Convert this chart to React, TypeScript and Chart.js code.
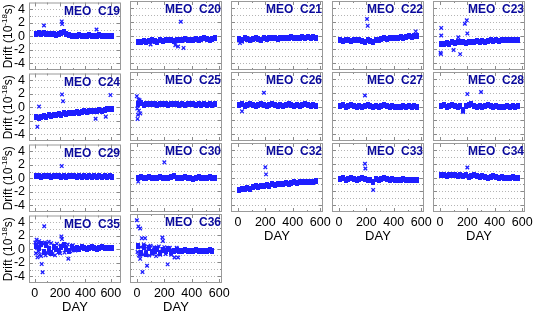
import { useEffect, useRef } from "react";
import { Chart, registerables } from "chart.js";
Chart.register(...registerables);

const DAYS = [10, 30, 50, 70, 90, 110, 130, 150, 170, 190, 210, 230, 250, 270, 290, 310, 330, 350, 370, 390, 410, 430, 450, 470, 490, 510, 530, 550, 570, 590, 610];
const X_TICKS = [0, 200, 400, 600];
const Y_TICKS = [-4, -2, 0, 2, 4];

const C19_BAND = [0.4, 0.5, 0.3, 0.5, 0.4, 0.3, 0.4, 0.3, 0.2, 0.3, 0.5, 0.6, 0.4, 0.2, 0.1, 0.0, 0.1, 0.2, 0.1, 0.0, 0.1, 0.2, 0.1, 0.0, 0.1, 0.2, 0.1, 0.0, 0.1, 0.1, 0.0];
const C19_OUT = [[73, 1.6], [213, 2.2], [216, 1.8], [487, 1.0]];
const C20_BAND = [-0.9, -1.0, -0.8, -0.9, -0.8, -0.7, -0.8, -0.9, -0.7, -0.8, -0.7, -0.6, -0.7, -0.8, -0.6, -0.7, -0.6, -0.5, -0.6, -0.7, -0.6, -0.5, -0.6, -0.5, -0.4, -0.5, -0.6, -0.5, -0.4, null, null];
const C20_OUT = [[320, 2.0], [300, -1.6], [280, -1.4], [340, -1.8], [100, -1.3]];
const C21_BAND = [-0.5, -0.6, -0.4, -0.5, -0.6, -0.5, -0.4, -0.5, -0.6, -0.4, -0.5, -0.4, -0.3, -0.4, -0.5, -0.4, -0.3, -0.4, -0.3, -0.2, -0.3, -0.4, -0.3, -0.2, -0.3, -0.2, -0.3, -0.2, -0.3, null, null];
const C21_OUT = [[15, -1.1], [30, -0.9]];
const C22_BAND = [-0.7, -0.8, -0.6, -0.7, -0.8, -0.7, -0.6, -0.7, -0.8, -0.9, -0.7, -0.8, -0.9, -0.7, -0.6, -0.5, -0.4, -0.5, -0.4, -0.3, -0.4, -0.3, -0.2, -0.3, -0.2, -0.1, -0.2, -0.1, 0.0, null, null];
const C22_OUT = [[205, 2.4], [210, 1.4], [560, 0.6]];
const C23_BAND = [-1.3, -1.2, -1.1, -1.2, -1.0, -1.1, -1.0, -0.9, -1.0, -1.1, -0.9, -1.0, -0.9, -0.8, -0.9, -0.8, -0.9, -0.8, -0.7, -0.8, -0.7, -0.8, -0.7, -0.6, -0.7, -0.6, -0.7, -0.6, -0.7, null, null];
const C23_OUT = [[10, 1.1], [10, 0.0], [8, -2.7], [5, -2.5], [100, -2.1], [148, -2.7], [134, -0.25], [182, 1.7], [196, 2.2], [200, 0.3]];
const C24_BAND = [-1.5, -1.6, -1.4, -1.3, -1.4, -1.2, -1.3, -1.1, -1.2, -1.0, -1.1, -0.9, -1.0, -0.9, -0.8, -0.9, -0.7, -0.8, -0.7, -0.6, -0.7, -0.6, -0.5, -0.6, -0.5, -0.4, -0.5, -0.4, -0.3, -0.3, -0.2];
const C24_OUT = [[215, 1.9], [223, 0.9], [21, -2.9], [34, 0.1], [597, 1.8], [560, -1.4], [480, -1.7]];
const C25_BAND = [0.3, 0.5, 0.2, 0.4, 0.3, 0.4, 0.3, 0.2, 0.3, 0.4, 0.3, 0.2, 0.3, 0.4, 0.3, 0.2, 0.3, 0.2, 0.3, 0.4, 0.3, 0.2, 0.3, 0.2, 0.3, 0.2, 0.3, 0.2, 0.3, null, null];
const C25_OUT = [[0, 1.5], [5, -1.8], [8, -1.2], [12, 1.0], [15, -0.6], [20, 0.9], [3, -0.3], [25, -1.0]];
const C26_BAND = [0.2, 0.3, 0.1, 0.2, 0.3, 0.2, 0.1, 0.2, 0.3, 0.2, 0.1, 0.2, 0.3, 0.2, 0.1, 0.2, 0.1, 0.2, 0.3, 0.2, 0.1, 0.2, 0.1, 0.2, 0.3, 0.2, 0.1, 0.2, 0.1, null, null];
const C26_OUT = [[30, -0.7], [190, 2.0]];
const C27_BAND = [0.1, 0.2, 0.0, 0.1, 0.2, 0.1, 0.0, 0.1, -0.1, 0.1, 0.2, 0.1, 0.0, 0.1, 0.0, 0.1, 0.2, 0.1, 0.0, 0.1, 0.0, -0.1, 0.0, 0.1, 0.0, 0.1, 0.0, 0.1, 0.0, null, null];
const C27_OUT = [[190, 1.6]];
const C28_BAND = [0.1, 0.2, 0.0, 0.1, 0.2, 0.1, 0.0, 0.1, -0.5, 0.1, 0.2, 0.3, 0.1, 0.0, 0.1, 0.0, 0.1, 0.2, 0.1, 0.0, 0.1, 0.0, -0.1, 0.0, 0.1, 0.0, 0.1, 0.0, 0.1, null, null];
const C28_OUT = [[200, 1.8], [300, 2.1], [170, -0.8]];
const C29_BAND = [0.3, 0.4, 0.2, 0.3, 0.4, 0.3, 0.2, 0.3, 0.4, 0.3, 0.2, 0.3, 0.2, 0.3, 0.4, 0.3, 0.2, 0.3, 0.2, 0.3, 0.2, 0.3, 0.2, 0.3, 0.2, 0.3, 0.2, 0.3, 0.2, 0.3, 0.2];
const C29_OUT = [[213, 1.8]];
const C30_BAND = [0.0, 0.1, -0.1, 0.0, 0.1, 0.0, -0.1, 0.0, 0.1, 0.0, -0.1, 0.0, 0.1, 0.2, 0.0, -0.1, 0.0, 0.1, 0.0, -0.1, -0.2, 0.0, 0.1, 0.0, -0.1, 0.0, 0.1, 0.0, 0.0, null, null];
const C30_OUT = [[200, 2.2], [10, -0.6]];
const C32_BAND = [-1.8, -1.7, -1.6, -1.5, -1.6, -1.4, -1.3, -1.4, -1.2, -1.3, -1.1, -1.2, -1.0, -1.1, -0.9, -1.0, -0.9, -0.8, -0.9, -0.8, -0.7, -0.8, -0.7, -0.6, -0.7, -0.6, -0.7, -0.6, -0.5, null, null];
const C32_OUT = [[200, 1.5], [205, 0.45]];
const C33_BAND = [-0.2, -0.1, -0.3, -0.2, -0.1, -0.2, -0.3, -0.2, -0.1, -0.2, -0.3, -0.4, -0.6, -0.2, -0.3, -0.2, -0.1, -0.2, -0.3, -0.2, -0.3, -0.4, -0.3, -0.2, -0.3, -0.4, -0.3, -0.4, -0.3, null, null];
const C33_OUT = [[190, 2.0], [193, 1.3], [250, -1.8]];
const C34_BAND = [0.3, 0.4, 0.2, 0.3, 0.4, 0.3, 0.2, 0.3, 0.2, 0.3, 0.1, 0.2, 0.3, 0.2, 0.1, 0.2, 0.1, 0.0, 0.1, 0.2, 0.1, 0.0, 0.1, 0.0, -0.1, 0.0, 0.1, 0.0, -0.1, null, null];
const C34_OUT = [[200, 1.45]];
const C35_BAND = [0.5, 0.2, 0.8, -0.4, 0.6, 0.0, -0.5, 0.4, 0.1, -0.3, 0.3, 0.6, 0.0, -0.2, 0.3, 0.1, 0.2, 0.0, 0.3, 0.2, 0.1, 0.2, 0.3, 0.2, 0.1, 0.2, 0.3, 0.2, 0.2, 0.2, 0.2];
const C35_OUT = [[5, 1.0], [10, -0.6], [15, 1.4], [20, 0.2], [22, -1.2], [28, 0.9], [30, -0.3], [35, 1.2], [40, -0.8], [45, 0.6], [50, -1.0], [55, -2.2], [62, -3.4], [65, 0.8], [75, 3.4], [78, -0.5], [80, 1.0], [85, -0.9], [95, 0.7], [100, -0.6], [110, 1.1], [120, -0.4], [130, 0.9], [140, -0.7], [150, 0.5], [160, -0.9], [175, 0.8], [210, 1.9], [215, 1.5], [200, -0.6], [225, 0.6], [235, -0.5], [265, -1.4], [260, 0.7], [280, -0.3], [300, 0.6], [320, -0.2]];
const C36_BAND = [0.3, -0.6, 0.2, -0.8, 0.1, -0.5, -0.3, 0.0, -0.6, -0.2, -0.4, -0.1, -0.5, -0.3, -0.2, -0.4, -0.3, -0.2, -0.3, -0.4, -0.3, -0.2, -0.3, -0.4, -0.3, -0.3, -0.2, -0.3, null, null, null];
const C36_OUT = [[0, 4.1], [11, 3.2], [24, 2.9], [41, -3.4], [24, -1.5], [74, -2.5], [186, 1.6], [190, 1.1], [224, -2.3], [274, -1.3], [300, -1.3], [36, 1.5], [60, 1.5], [5, -0.5], [10, 0.4], [15, -1.0], [30, 0.2], [45, -0.9], [50, 0.6], [65, -0.4], [80, 0.3], [90, -1.0], [100, 0.4], [110, -0.8], [125, 0.2], [140, -1.1], [160, 0.3], [170, -0.9], [200, 0.2], [210, -0.8], [240, 0.1], [250, -0.9], [290, 0.1]];

const PANELS = [
  { name: "C19", band: C19_BAND, out: C19_OUT, col: 0, row: 0 },
  { name: "C20", band: C20_BAND, out: C20_OUT, col: 1, row: 0 },
  { name: "C21", band: C21_BAND, out: C21_OUT, col: 2, row: 0 },
  { name: "C22", band: C22_BAND, out: C22_OUT, col: 3, row: 0 },
  { name: "C23", band: C23_BAND, out: C23_OUT, col: 4, row: 0 },
  { name: "C24", band: C24_BAND, out: C24_OUT, col: 0, row: 1 },
  { name: "C25", band: C25_BAND, out: C25_OUT, col: 1, row: 1 },
  { name: "C26", band: C26_BAND, out: C26_OUT, col: 2, row: 1 },
  { name: "C27", band: C27_BAND, out: C27_OUT, col: 3, row: 1 },
  { name: "C28", band: C28_BAND, out: C28_OUT, col: 4, row: 1 },
  { name: "C29", band: C29_BAND, out: C29_OUT, col: 0, row: 2 },
  { name: "C30", band: C30_BAND, out: C30_OUT, col: 1, row: 2 },
  { name: "C32", band: C32_BAND, out: C32_OUT, col: 2, row: 2, bottom: true },
  { name: "C33", band: C33_BAND, out: C33_OUT, col: 3, row: 2, bottom: true },
  { name: "C34", band: C34_BAND, out: C34_OUT, col: 4, row: 2, bottom: true },
  { name: "C35", band: C35_BAND, out: C35_OUT, col: 0, row: 3, bottom: true },
  { name: "C36", band: C36_BAND, out: C36_OUT, col: 1, row: 3, bottom: true },
];

const X_RANGE_COL0 = [-45, 680];
const X_RANGE = [-50, 620];

const FONT = "'Liberation Sans', Arial, sans-serif";
const BLUE = "#1e1eff";
const COL0 = 29, COL_PITCH = 101, PW = 92;
const ROW0 = 1, ROW_PITCH = 71, PH = 69;
const PAD_L = 29, PAD_T = 10, PAD_R = 16, PAD_B = 34;

function makeBandImg() {
  const c = document.createElement("canvas");
  c.width = 4; c.height = 6;
  const g = c.getContext("2d")!;
  g.fillStyle = BLUE;
  g.fillRect(0, 0, 4, 6);
  return c;
}

function Panel({ p }: { p: any }) {
  const ref = useRef<HTMLCanvasElement>(null);
  const L = COL0 + COL_PITCH * p.col;
  const T = ROW0 + ROW_PITCH * p.row;
  const cw = PAD_L + PW + PAD_R;
  const ch = PAD_T + PH + PAD_B;
  useEffect(() => {
    const first = p.col === 0;
    const range = first ? X_RANGE_COL0 : X_RANGE;
    const grid = {
      id: "dotgrid",
      beforeDatasetsDraw(chart: any) {
        const { ctx, chartArea: a, scales } = chart;
        ctx.save();
        ctx.fillStyle = "#b4b4b4";
        for (let v = -4; v <= 4; v++) {
          const y = Math.round(scales.y.getPixelForValue(v));
          for (let x = Math.round(a.left) + 3; x < a.right - 2; x += 3) ctx.fillRect(x, y, 1, 1);
        }
        ctx.restore();
      },
    };
    const deco = {
      id: "deco",
      afterDraw(chart: any) {
        const { ctx, chartArea: a, scales } = chart;
        const xs = scales.x, ys = scales.y;
        ctx.save();
        ctx.strokeStyle = "#8a8a8a";
        ctx.lineWidth = 1;
        ctx.beginPath();
        for (let v = -4; v <= 4; v++) {
          const y = Math.round(ys.getPixelForValue(v)) + 0.5;
          const len = v % 2 === 0 ? 4 : 2;
          ctx.moveTo(a.left, y); ctx.lineTo(a.left + len, y);
          ctx.moveTo(a.right, y); ctx.lineTo(a.right - len, y);
        }
        for (let v = 0; v <= 600; v += 100) {
          const x = Math.round(xs.getPixelForValue(v)) + 0.5;
          const len = v % 200 === 0 ? 4 : 2;
          ctx.moveTo(x, a.top); ctx.lineTo(x, a.top + len);
          ctx.moveTo(x, a.bottom); ctx.lineTo(x, a.bottom - len);
        }
        ctx.stroke();
        ctx.strokeStyle = "#9a9a9a";
        ctx.strokeRect(a.left + 0.5, a.top + 0.5, a.right - a.left - 1, a.bottom - a.top - 1);
        ctx.fillStyle = "#0a0a9c";
        ctx.font = "bold 12px " + FONT;
        ctx.textAlign = "right";
        ctx.textBaseline = "top";
        ctx.fillText("MEO  " + p.name, a.right - 1, a.top + 3);
        ctx.fillStyle = "#000";
        if (p.bottom) {
          ctx.font = "13px " + FONT;
          ctx.textAlign = "center";
          ctx.textBaseline = "middle";
          ctx.fillText("DAY", (a.left + a.right) / 2, a.bottom + 24);
        }
        if (first) {
          ctx.translate(9, (a.top + a.bottom) / 2);
          ctx.rotate(-Math.PI / 2);
          const f1 = "12px " + FONT, f2 = "8px " + FONT;
          ctx.font = f1; const w1 = ctx.measureText("Drift (10").width;
          const w3 = ctx.measureText("s)").width;
          ctx.font = f2; const w2 = ctx.measureText("-18").width;
          let x = -(w1 + w2 + w3) / 2;
          ctx.textAlign = "left";
          ctx.textBaseline = "middle";
          ctx.font = f1; ctx.fillText("Drift (10", x, 0); x += w1;
          ctx.font = f2; ctx.fillText("-18", x, -4); x += w2;
          ctx.font = f1; ctx.fillText("s)", x, 0);
        }
        ctx.restore();
      },
    };
    const bandImg = makeBandImg();
    const bandData = DAYS.map((d, i) => ({ x: d, y: p.band[i] })).filter((q) => q.y !== null && q.y !== undefined);
    const outData = p.out.map((o: number[]) => ({ x: o[0], y: o[1] }));
    const chart = new Chart(ref.current!, {
      type: "scatter",
      data: {
        datasets: [
          { data: bandData, pointStyle: bandImg as any, pointRadius: 3, backgroundColor: BLUE, borderColor: BLUE },
          { data: outData, pointStyle: "crossRot", pointRadius: 2.5, borderWidth: 1.3, borderColor: BLUE, backgroundColor: BLUE },
        ],
      },
      options: {
        responsive: false,
        animation: false,
        events: [],
        layout: { padding: { left: 0, top: PAD_T, right: PAD_R, bottom: 0 } },
        plugins: { legend: { display: false }, tooltip: { enabled: false } },
        scales: {
          x: {
            type: "linear",
            min: range[0],
            max: range[1],
            afterFit: (s: any) => { s.height = PAD_B; },
            afterBuildTicks: (s: any) => { s.ticks = X_TICKS.map((v) => ({ value: v })); },
            grid: { display: false, drawTicks: false },
            border: { display: false },
            ticks: { display: !!p.bottom, font: { family: FONT, size: 12.5 }, color: "#000", padding: 3, maxRotation: 0, autoSkip: false },
          },
          y: {
            min: -5,
            max: 5,
            afterFit: (s: any) => { s.width = PAD_L; },
            afterBuildTicks: (s: any) => { s.ticks = Y_TICKS.map((v) => ({ value: v })); },
            ticks: {
              display: first,
              font: { family: FONT, size: 12.5 },
              color: "#000",
              padding: 4,
              autoSkip: false,
            },
            grid: { display: false, drawTicks: false },
            border: { display: false },
          },
        },
      },
      plugins: [grid, deco],
    });
    return () => chart.destroy();
  }, []);
  return (
    <canvas
      ref={ref}
      width={cw}
      height={ch}
      style={{ position: "absolute", left: L - PAD_L, top: T - PAD_T, width: cw, height: ch }}
    />
  );
}

export default function App() {
  useEffect(() => {
    document.body.style.margin = "0";
  }, []);
  return (
    <div style={{ position: "fixed", left: 0, top: 0, width: 533, height: 312, background: "#fff", overflow: "hidden" }}>
      {PANELS.map((p) => (
        <Panel key={p.name} p={p} />
      ))}
    </div>
  );
}
